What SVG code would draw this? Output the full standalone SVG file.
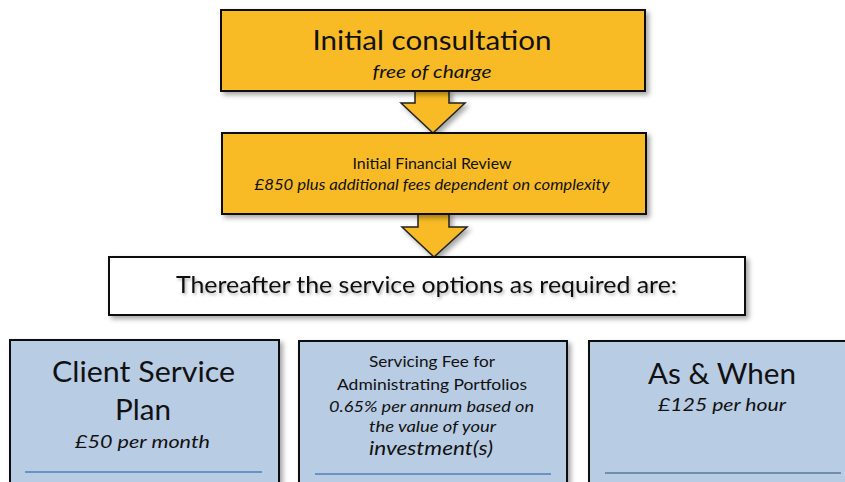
<svg xmlns="http://www.w3.org/2000/svg" width="845" height="482" viewBox="0 0 845 482">
<defs>
<filter id="sh" x="-10%" y="-10%" width="120%" height="130%">
<feDropShadow dx="3" dy="3" stdDeviation="2.5" flood-color="#000" flood-opacity="0.35"/>
</filter>
<filter id="tsh" x="-5%" y="-30%" width="110%" height="160%">
<feDropShadow dx="1.5" dy="2" stdDeviation="1.5" flood-color="#000" flood-opacity="0.3"/>
</filter>
<clipPath id="clip1"><rect x="221" y="10" width="424" height="71"/></clipPath>
</defs>
<style>
.t{font-family:Lato,"Open Sans","Liberation Sans",sans-serif;fill:#111;text-anchor:middle}
.i{font-style:italic}
.gold{fill:#F8BB26;stroke:#111;stroke-width:2}
.blue{fill:#B8CCE4;stroke:#111;stroke-width:2}
.white{fill:#fff;stroke:#111;stroke-width:2}
.arr{fill:#F8BB26;stroke:#222;stroke-width:1.5;stroke-linejoin:miter}
.rule{stroke:#4F81BD;stroke-width:1.5}
</style>
<rect width="845" height="482" fill="#fff"/>
<g id="connectors">
<polygon class="arr" filter="url(#sh)" points="415,90 449,90 449,103 465,103 433,133 401,103 415,103"/>
<polygon class="arr" filter="url(#sh)" points="418,213 449,213 449,227 467,227 434,257 402,227 418,227"/>
</g>
<g id="initial-consultation">
<rect class="gold" x="221" y="10" width="424" height="81" filter="url(#sh)"/>
<text class="t" x="432" y="50" font-size="27" textLength="239" lengthAdjust="spacingAndGlyphs">Initial consultation</text>
<g clip-path="url(#clip1)"><text class="t i" x="432" y="78" font-size="18" textLength="119" lengthAdjust="spacingAndGlyphs">free of charge</text></g>
</g>
<g id="initial-financial-review">
<rect class="gold" x="222" y="133" width="424" height="81" filter="url(#sh)"/>
<text class="t" x="432" y="169" font-size="14.5" textLength="159" lengthAdjust="spacingAndGlyphs">Initial Financial Review</text>
<text class="t i" x="432" y="190" font-size="15" textLength="355" lengthAdjust="spacingAndGlyphs">£850 plus additional fees dependent on complexity</text>
</g>
<g id="service-options">
<rect class="white" x="109" y="257" width="636" height="58" filter="url(#sh)"/>
<text class="t" x="426.5" y="293" font-size="23" textLength="501" lengthAdjust="spacingAndGlyphs" filter="url(#tsh)">Thereafter the service options as required are:</text>
</g>
<g id="client-service-plan">
<rect class="blue" x="10" y="340" width="269" height="160" filter="url(#sh)"/>
<text class="t" x="143.5" y="382" font-size="28" textLength="183" lengthAdjust="spacingAndGlyphs">Client Service</text>
<text class="t" x="143" y="420" font-size="28" textLength="56" lengthAdjust="spacingAndGlyphs">Plan</text>
<text class="t i" x="142.5" y="448" font-size="18" textLength="135" lengthAdjust="spacingAndGlyphs">£50 per month</text>
<line class="rule" x1="25" y1="472" x2="262" y2="472"/>
</g>
<g id="servicing-fee">
<rect class="blue" x="299" y="341" width="268" height="160" filter="url(#sh)"/>
<text class="t" x="432" y="367" font-size="15" textLength="126" lengthAdjust="spacingAndGlyphs">Servicing Fee for</text>
<text class="t" x="432" y="390" font-size="15" textLength="190" lengthAdjust="spacingAndGlyphs">Administrating Portfolios</text>
<text class="t i" x="431.5" y="412" font-size="15" textLength="205" lengthAdjust="spacingAndGlyphs">0.65% per annum based on</text>
<text class="t i" x="432.5" y="432" font-size="15" textLength="127" lengthAdjust="spacingAndGlyphs">the value of your</text>
<text class="t i" x="431" y="455" font-size="19" textLength="124" lengthAdjust="spacingAndGlyphs">investment(s)</text>
<line class="rule" x1="315" y1="474" x2="551" y2="474"/>
</g>
<g id="as-and-when">
<rect class="blue" x="589" y="341" width="268" height="160" filter="url(#sh)"/>
<text class="t" x="722" y="384" font-size="28" textLength="148" lengthAdjust="spacingAndGlyphs">As &amp; When</text>
<text class="t i" x="722" y="411" font-size="18" textLength="128" lengthAdjust="spacingAndGlyphs">£125 per hour</text>
<line class="rule" x1="605" y1="473" x2="841" y2="473" style="stroke:#5A7AA0"/>
</g>
</svg>
